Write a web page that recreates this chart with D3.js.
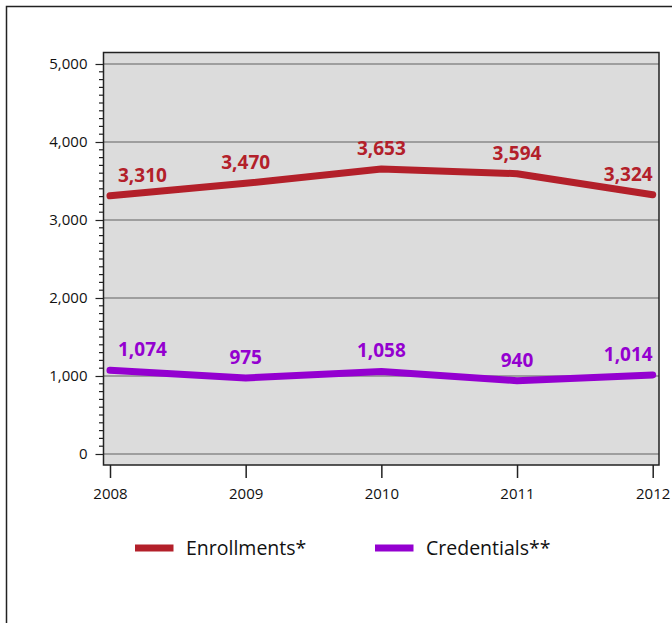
<!DOCTYPE html>
<html><head><meta charset="utf-8">
<script src="https://cdn.jsdelivr.net/npm/d3@7"></script>
<style>body{margin:0;background:#fff}svg{display:block}text{font-family:"Open Sans",sans-serif}</style>
</head><body>
<svg id="c" width="672" height="623"></svg>
<script>
const years = ["2008","2009","2010","2011","2012"];
const enrollments = [3310, 3470, 3653, 3594, 3324];
const credentials = [1074, 975, 1058, 940, 1014];
const yTicks = [0, 1000, 2000, 3000, 4000, 5000];
const seriesNames = ["Enrollments*", "Credentials**"];
const seriesColors = ["#b3202a", "#9400d0"];

const svg = d3.select("#c");
// outer frame
svg.append("rect").attr("x",6.5).attr("y",6.5).attr("width",700).attr("height",700)
  .attr("fill","none").attr("stroke","#222").attr("stroke-width",1.5);

const plot = {l:103.5, t:52.5, r:659, b:465};
const x = d3.scalePoint().domain(years).range([110, 652.7]);
const y = d3.scaleLinear().domain([0,5000]).range([454, 64]);

svg.append("rect").attr("x",plot.l).attr("y",plot.t).attr("width",plot.r-plot.l).attr("height",plot.b-plot.t)
  .attr("fill","#dcdcdc");

// grid
svg.append("g").selectAll("line").data(yTicks).join("line")
  .attr("x1",plot.l).attr("x2",plot.r).attr("y1",d=>y(d)).attr("y2",d=>y(d))
  .attr("stroke","#8a8a8a").attr("stroke-width",1.5);

svg.append("rect").attr("x",plot.l).attr("y",plot.t).attr("width",plot.r-plot.l).attr("height",plot.b-plot.t)
  .attr("fill","none").attr("stroke","#222").attr("stroke-width",1.5);

// y axis
const ya = d3.axisLeft(y).tickValues(yTicks).tickFormat(d3.format(",")).tickSize(8).tickPadding(8);
const yg = svg.append("g").attr("transform",`translate(${plot.l},0)`).call(ya);
yg.select(".domain").remove();
yg.selectAll("line").attr("stroke","#222").attr("stroke-width",1.2);
yg.selectAll("text").attr("font-size",15).attr("fill","#111").style("font-family","'Open Sans',sans-serif");
// minor ticks
const minor = d3.range(0,5001,100).filter(v=>v%1000!==0);
svg.append("g").selectAll("line").data(minor).join("line")
  .attr("x1",plot.l-4.5).attr("x2",plot.l).attr("y1",d=>y(d)).attr("y2",d=>y(d))
  .attr("stroke","#222").attr("stroke-width",1.2);

// x axis
const xa = d3.axisBottom(x).tickSize(13).tickPadding(10);
const xg = svg.append("g").attr("transform",`translate(0,${plot.b})`).call(xa);
xg.select(".domain").remove();
xg.selectAll("line").attr("stroke","#222").attr("stroke-width",1.5);
xg.selectAll("text").attr("font-size",15).attr("fill","#111").style("font-family","'Open Sans',sans-serif");

const series = [enrollments, credentials];
const line = d3.line().x((d,i)=>x(years[i])).y(d=>y(d));
series.forEach((s,k)=>{
  svg.append("path").datum(s).attr("d",line).attr("fill","none")
    .attr("stroke",seriesColors[k]).attr("stroke-width",7).attr("stroke-linecap","round").attr("stroke-linejoin","round");
  svg.append("g").selectAll("text").data(s).join("text")
    .attr("x",(d,i)=> i===0 ? x(years[i])+8 : x(years[i]))
    .attr("y",d=>y(d)-14)
    .attr("text-anchor",(d,i)=> i===0 ? "start" : i===years.length-1 ? "end" : "middle")
    .attr("font-size",19).attr("font-weight","bold").attr("fill",seriesColors[k])
    .text(d=>d3.format(",")(d));
});

// legend
const legX = [135, 375];
seriesNames.forEach((n,k)=>{
  svg.append("rect").attr("x",legX[k]).attr("y",544.5).attr("width",38.5).attr("height",7).attr("fill",seriesColors[k]);
  svg.append("text").attr("x",legX[k]+51).attr("y",555).attr("font-size",19.5).attr("fill","#111").text(n);
});
</script>
</body></html>
